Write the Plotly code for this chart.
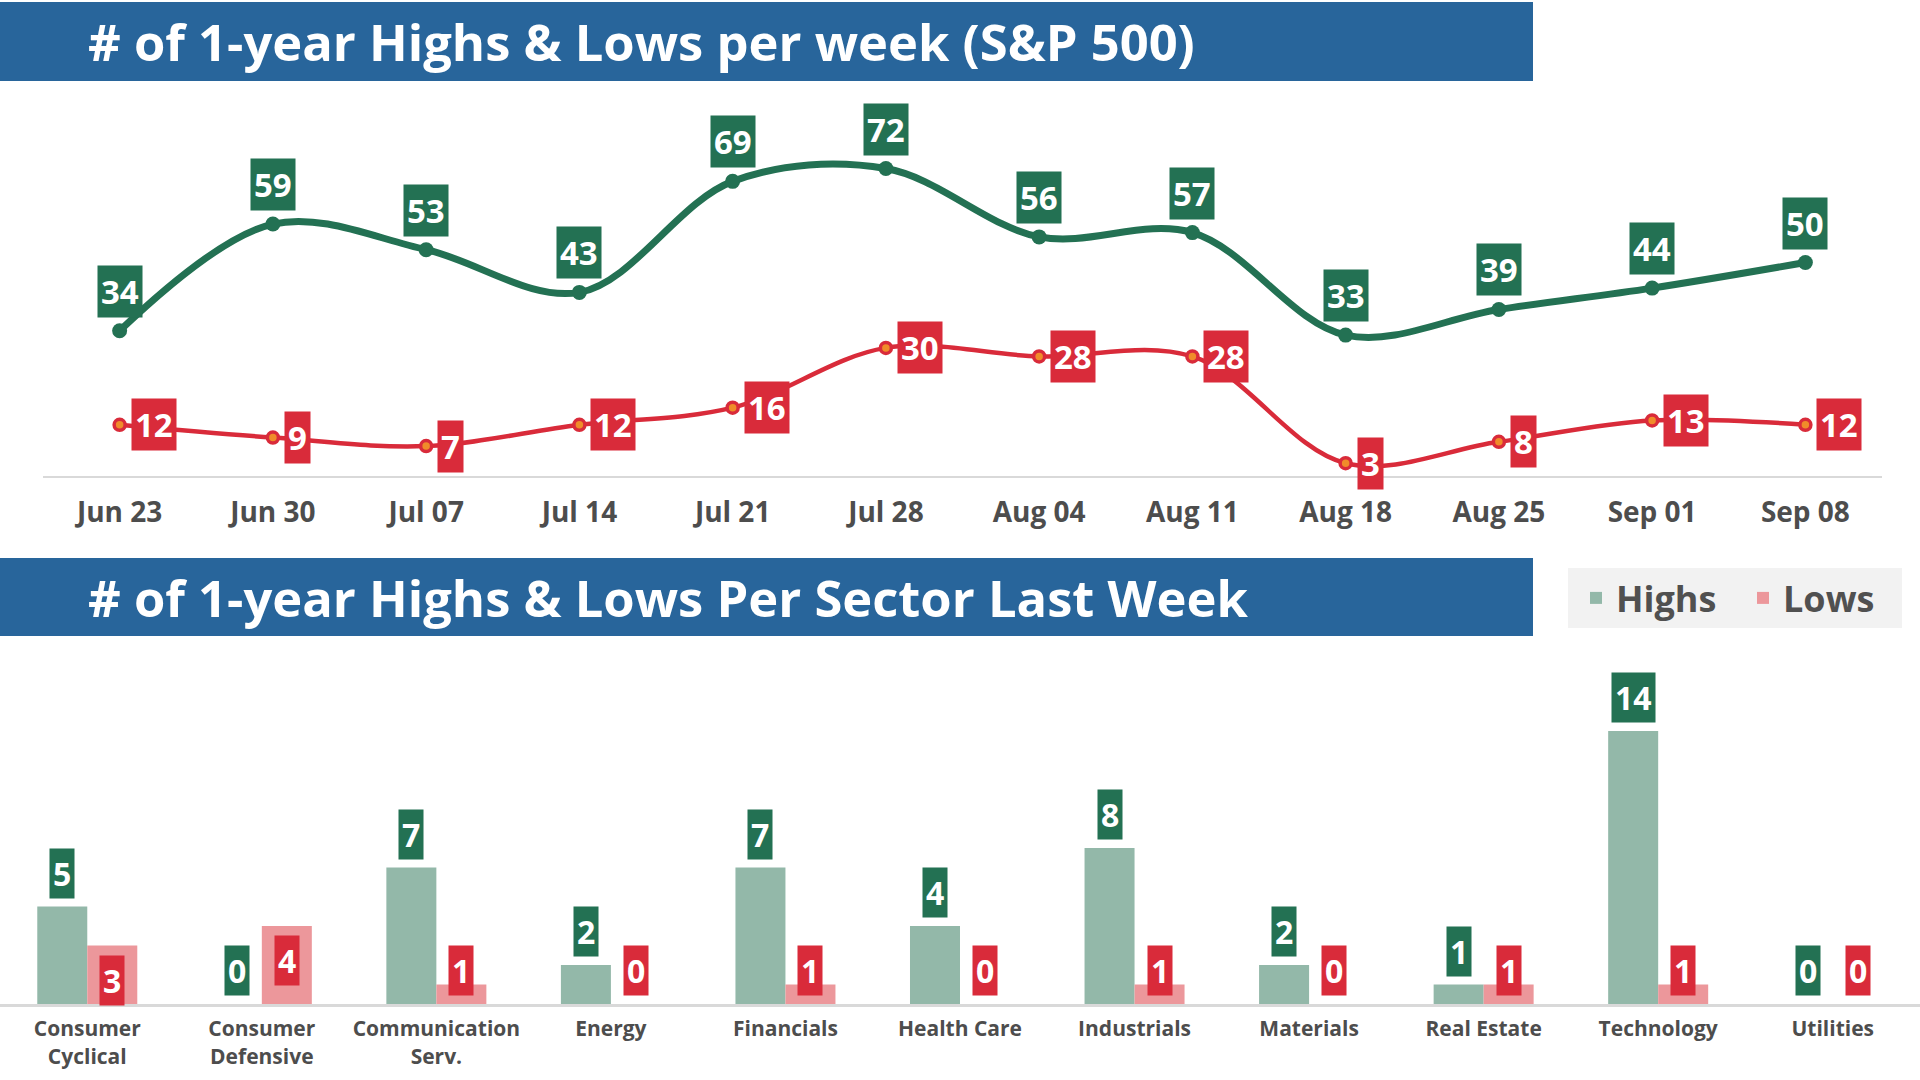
import plotly.graph_objects as go

# ---------------- data ----------------
weeks = ["Jun 23", "Jun 30", "Jul 07", "Jul 14", "Jul 21", "Jul 28",
         "Aug 04", "Aug 11", "Aug 18", "Aug 25", "Sep 01", "Sep 08"]
weekly_highs = [34, 59, 53, 43, 69, 72, 56, 57, 33, 39, 44, 50]
weekly_lows = [12, 9, 7, 12, 16, 30, 28, 28, 3, 8, 13, 12]

sectors = ["Consumer<br>Cyclical", "Consumer<br>Defensive", "Communication<br>Serv.",
           "Energy", "Financials", "Health Care", "Industrials", "Materials",
           "Real Estate", "Technology", "Utilities"]
sector_highs = [5, 0, 7, 2, 7, 4, 8, 2, 1, 14, 0]
sector_lows = [3, 4, 1, 0, 1, 0, 1, 0, 1, 1, 0]

title_top = "# of 1-year Highs & Lows per week (S&P 500)"
title_bottom = "# of 1-year Highs & Lows Per Sector Last Week"

# ---------------- styles ----------------
W, H = 1920, 1080
FONT = "Open Sans"
GREEN = "#237153"
RED = "#d92b3a"
BAR_GREEN = "#93b8a9"
BAR_PINK = "#ec979b"
BLUE = "#28659b"
AXIS = "#d9d9d9"
TXT = "#4d4d4d"


def py(px):
    """pixel row -> paper y"""
    return 1 - px / H


fig = go.Figure()

# top chart lines
fig.add_trace(go.Scatter(
    x=weeks, y=weekly_highs, mode="lines+markers", name="Weekly Highs",
    line=dict(color=GREEN, width=7, shape="spline", smoothing=1),
    marker=dict(color=GREEN, size=15), showlegend=False,
    xaxis="x", yaxis="y"))
fig.add_trace(go.Scatter(
    x=weeks, y=weekly_lows, mode="lines+markers", name="Weekly Lows",
    line=dict(color=RED, width=4.5, shape="spline", smoothing=1),
    marker=dict(color="#f08c2a", size=11, line=dict(color=RED, width=3.5)),
    showlegend=False, xaxis="x", yaxis="y"))

# bottom chart bars
fig.add_trace(go.Bar(x=sectors, y=sector_highs, name="Highs",
                     marker=dict(color=BAR_GREEN, line=dict(width=0)),
                     xaxis="x2", yaxis="y2"))
fig.add_trace(go.Bar(x=sectors, y=sector_lows, name="Lows",
                     marker=dict(color=BAR_PINK, line=dict(width=0)),
                     xaxis="x2", yaxis="y2"))

LBL_FONT = dict(family=FONT, size=33, color="white", weight=700)
BAR_LBL_FONT = dict(family=FONT, size=32, color="white", weight=700)
annotations = []

# top chart data labels
for wk, v in zip(weeks, weekly_highs):
    annotations.append(dict(x=wk, y=v, xref="x", yref="y", text=str(v),
                            showarrow=False, xanchor="center", yanchor="bottom",
                            yshift=13, bgcolor=GREEN, borderpad=3, font=LBL_FONT))
for wk, v in zip(weeks, weekly_lows):
    annotations.append(dict(x=wk, y=v, xref="x", yref="y", text=str(v),
                            showarrow=False, xanchor="left", yanchor="middle",
                            xshift=11, bgcolor=RED, borderpad=3, font=LBL_FONT))

# bottom chart data labels
for s, v in zip(sectors, sector_highs):
    annotations.append(dict(x=s, y=v, xref="x2", yref="y2", text=str(v),
                            showarrow=False, xanchor="center", yanchor="bottom",
                            xshift=-25, yshift=8, bgcolor=GREEN, borderpad=3,
                            font=BAR_LBL_FONT))
for s, v in zip(sectors, sector_lows):
    inside = v >= 3
    annotations.append(dict(x=s, y=v if inside else 0, xref="x2", yref="y2",
                            text=str(v), showarrow=False, xanchor="center",
                            yanchor="top" if inside else "bottom",
                            xshift=25, yshift=-9 if inside else 8,
                            bgcolor=RED, borderpad=3, font=BAR_LBL_FONT))

# section titles
TITLE_FONT = dict(family=FONT, size=50.7, color="white", weight=700)
annotations.append(dict(x=86 / W, y=py(42), xref="paper", yref="paper",
                        text=title_top, showarrow=False, xanchor="left",
                        yanchor="middle", font=TITLE_FONT))
annotations.append(dict(x=86 / W, y=py(597), xref="paper", yref="paper",
                        text=title_bottom, showarrow=False, xanchor="left",
                        yanchor="middle", font=TITLE_FONT))

shapes = [
    dict(type="rect", xref="paper", yref="paper", x0=0, x1=1533 / W,
         y0=py(81), y1=py(2), fillcolor=BLUE, line=dict(width=0), layer="below"),
    dict(type="rect", xref="paper", yref="paper", x0=0, x1=1533 / W,
         y0=py(636), y1=py(558), fillcolor=BLUE, line=dict(width=0), layer="below"),
]

fig.update_layout(
    width=W, height=H, margin=dict(l=0, r=0, t=0, b=0),
    paper_bgcolor="white", plot_bgcolor="rgba(0,0,0,0)",
    font=dict(family=FONT, color=TXT),
    barmode="group", bargap=0.427, bargroupgap=0,
    xaxis=dict(domain=[43 / W, 1882 / W], range=[-0.5, 11.5], type="category",
               showline=True, linecolor=AXIS, linewidth=2, showgrid=False,
               zeroline=False, ticks="", ticklabelstandoff=10,
               tickfont=dict(family=FONT, size=28, color=TXT, weight=700),
               anchor="y"),
    yaxis=dict(domain=[py(476), py(95)], range=[0, (476 - 95) / 4.27],
               visible=False, anchor="x"),
    xaxis2=dict(domain=[0, 1], range=[-0.5, 10.5], type="category",
                showline=True, linecolor=AXIS, linewidth=3, showgrid=False,
                zeroline=False, ticks="", ticklabelstandoff=4,
                tickfont=dict(family=FONT, size=21, color=TXT, weight=700),
                anchor="y2"),
    yaxis2=dict(domain=[py(1004), py(650)], range=[0, (1004 - 650) / 19.5],
                visible=False, anchor="x2"),
    legend=dict(orientation="h", x=1568 / W, y=py(568), xanchor="left",
                yanchor="top", bgcolor="#f2f2f2", entrywidth=114,
                indentation=8,
                font=dict(family=FONT, size=36, color="#505050", weight=700),
                traceorder="normal", itemclick=False, itemdoubleclick=False),
    annotations=annotations, shapes=shapes, showlegend=True,
)

fig.write_html("out.html", config={"displayModeBar": False},
               post_script="document.body.style.margin='0';")
